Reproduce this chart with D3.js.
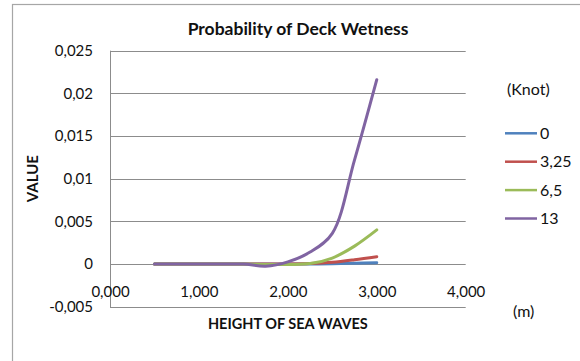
<!DOCTYPE html>
<html><head><meta charset="utf-8">
<script src="https://cdn.jsdelivr.net/npm/d3@7"></script>
<style>
html,body{margin:0;padding:0;background:#fff;}
svg{display:block;font-family:Lato,"Open Sans",sans-serif;}
</style></head>
<body><svg id="c" width="580" height="361"></svg>
<script>
const heights = [0.5, 0.75, 1.0, 1.25, 1.5, 1.75, 2.0, 2.25, 2.5, 2.75, 3.0];
const speeds = ["0", "3,25", "6,5", "13"];
const v0    = [0, 0, 0, 0, 0, 0, 0, 0.00001, 0.00004, 0.0001, 0.00015];
const v325  = [0, 0, 0, 0, 0, 0, 0, 0.00005, 0.0002, 0.0005, 0.00086];
const v65   = [0, 0, 0, 0, 0, -0.00005, -0.00005, 0.00005, 0.0007, 0.0021, 0.0040];
const v13   = [0, 0, 0, 0, 0, -0.00025, 0.00025, 0.0014, 0.0036, 0.0122, 0.0216];
const seriesValues = [v0, v325, v65, v13];
const colors = ["#4F81BD", "#C0504D", "#9BBB59", "#8064A2"];
const yTicks = [-0.005, 0, 0.005, 0.01, 0.015, 0.02, 0.025];
const yTickLabels = ["-0,005", "0", "0,005", "0,01", "0,015", "0,02", "0,025"];
const xTicks = [0, 1, 2, 3, 4];
const xTickLabels = ["0,000", "1,000", "2,000", "3,000", "4,000"];

const svg = d3.select("#c");
svg.append("rect").attr("x", 12.5).attr("y", 4.5).attr("width", 600).attr("height", 400)
  .attr("fill", "#fff").attr("stroke", "#a6a6a6").attr("stroke-width", 1.2);

const L = 110, R = 465.7, T = 50.7, B = 306.7;
const x = d3.scaleLinear().domain([0, 4]).range([L, R]);
const y = d3.scaleLinear().domain([-0.005, 0.025]).range([B, T]);

svg.append("g").selectAll("line").data(yTicks).join("line")
  .attr("x1", L).attr("x2", R)
  .attr("y1", d => Math.round(y(d)) + 0.5).attr("y2", d => Math.round(y(d)) + 0.5)
  .attr("stroke", "#8c8c8c").attr("stroke-width", 1);
svg.append("line").attr("x1", L + 0.5).attr("x2", L + 0.5).attr("y1", T).attr("y2", B + 0.5)
  .attr("stroke", "#8c8c8c").attr("stroke-width", 1);

const yAxis = d3.axisLeft(y).tickValues(yTicks).tickSize(0).tickPadding(17)
  .tickFormat((d, i) => yTickLabels[i]);
const gy = svg.append("g").attr("transform", `translate(${L},0)`).call(yAxis);
gy.select(".domain").remove();
gy.selectAll("text").attr("font-size", 15).attr("fill", "#111").attr("font-family", "Lato");

const xAxis = d3.axisBottom(x).tickValues(xTicks).tickSize(0).tickPadding(0)
  .tickFormat((d, i) => xTickLabels[i]);
const gx = svg.append("g").attr("transform", `translate(0,${y(0) + 20})`).call(xAxis);
gx.select(".domain").remove();
gx.selectAll("text").attr("font-size", 15).attr("fill", "#111").attr("font-family", "Lato").attr("dy", "0.35em").attr("y", 8);

const line = d3.line().x((d, i) => x(heights[i])).y(d => y(d)).curve(d3.curveCatmullRom.alpha(0.5));
svg.append("g").selectAll("path").data(seriesValues).join("path")
  .attr("d", d => line(d)).attr("fill", "none")
  .attr("stroke", (d, i) => colors[i]).attr("stroke-width", 3).attr("stroke-linejoin", "round").attr("stroke-linecap", "round");

svg.append("text").attr("x", 298).attr("y", 35).attr("text-anchor", "middle")
  .attr("font-size", 17.5).attr("font-weight", "bold").attr("fill", "#111").text("Probability of Deck Wetness");
svg.append("text").attr("transform", `translate(38,${(T + B) / 2}) rotate(-90)`).attr("text-anchor", "middle")
  .attr("font-size", 15).attr("font-weight", "bold").attr("fill", "#111").text("VALUE");
svg.append("text").attr("x", (L + R) / 2).attr("y", 329).attr("text-anchor", "middle")
  .attr("font-size", 14.5).attr("font-weight", "bold").attr("fill", "#111").text("HEIGHT OF SEA WAVES");

svg.append("text").attr("x", 507).attr("y", 95).attr("font-size", 16).attr("fill", "#111").text("(Knot)");
const lg = svg.append("g").selectAll("g").data(speeds).join("g")
  .attr("transform", (d, i) => `translate(505,${133.3 + i * 28.4})`);
lg.append("line").attr("x1", 0).attr("x2", 32).attr("y1", 0).attr("y2", 0)
  .attr("stroke", (d, i) => colors[i]).attr("stroke-width", 2.5);
lg.append("text").attr("x", 35).attr("y", 0).attr("dy", "0.35em").attr("font-size", 16).attr("fill", "#111").text(d => d);
svg.append("text").attr("x", 513).attr("y", 317).attr("font-size", 16).attr("fill", "#111").text("(m)");
</script></body></html>
